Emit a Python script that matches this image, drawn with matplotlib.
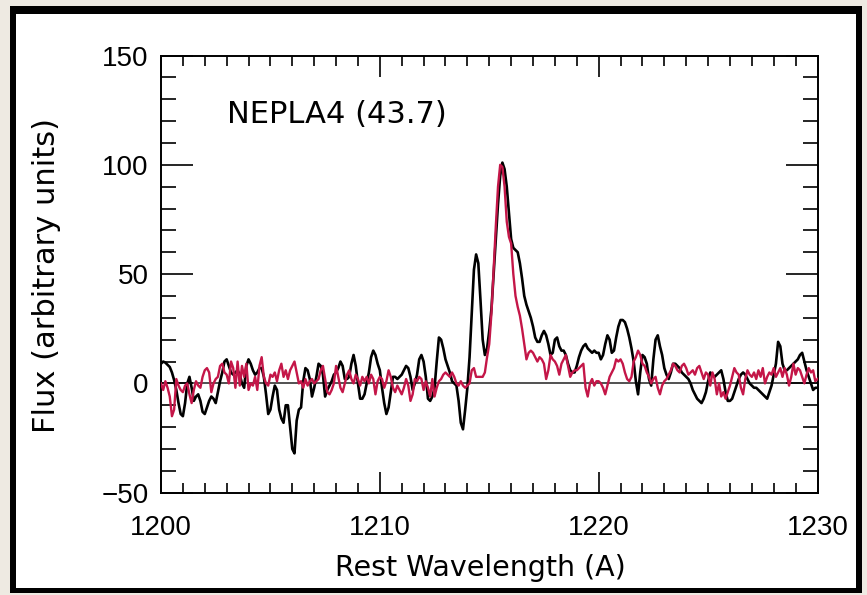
import numpy as np
import matplotlib.pyplot as plt
from matplotlib.patches import Rectangle
from matplotlib.ticker import MultipleLocator

plt.rcParams['font.family'] = ['DejaVu Sans']

# wavelength grid of the spectra (0.1 A sampling)
wave = np.round(np.arange(1200.0, 1230.05, 0.1), 1)

flux_obs = [
    9, 10, 9.5, 8.5, 7.5, 5, 1.5, -3, -9, -14,
    -15, -9, 0, 3, -2, -8, -6, -5, -8, -13,
    -14, -11, -8, -6, -7, -9, -4, 1, 5, 10,
    11, 8, 5, 4, 5, 6, 4, 0, -2, 8,
    11, 9, 6, 4, 5, 7, 7, 3, -5, -14,
    -12, -6, -1, -3, -12, -16, -18, -10, -10, -20,
    -30, -32, -17, -12, -11, 1, 7, 6, 2, -6,
    -2, 3, 9, 8, 4, -6, -3, -1, 1, 4,
    5, 7, 10, 8, 2, 2, 3, 9, 13, 8,
    0, -7, -7, -5, 0, 5, 12, 15, 13, 9,
    6, -2, -9, -14, -11, -4, 3, 3, 2, 3,
    4, 6, 8, 7, 3, -3, 0, 4, 11, 13,
    10, 3, -7, -8, -6, -2, 10, 21, 20, 16,
    11, 8, 5, 1, 0, -1, -8, -18, -21, -12,
    -2, 12, 32, 52, 59, 55, 38, 20, 13, 16,
    24, 34, 50, 66, 82, 95, 101, 98, 90, 78,
    66, 62, 61, 60, 55, 48, 40, 36, 33, 30,
    26, 21, 19, 19, 22, 24, 22, 18, 13, 14,
    20, 21, 17, 15, 15, 13, 9, 6, 5, 5,
    8, 12, 15, 17, 18, 16, 15, 14, 15, 14,
    14, 11, 13, 18, 22, 20, 14, 15, 21, 26,
    29, 29, 28, 25, 21, 16, 10, 1, -5, 5,
    13, 12, 9, 2, -1, 11, 20, 22, 17, 13,
    7, 4, 2, 5, 9, 9, 8, 7, 5, 4,
    3, 2, 0, -3, -5, -7, -8, -9, -7, -4,
    1, 5, 4, 3, 4, 5, 6, 2, -4, -8,
    -8, -7, -4, -1, 2, 4, 5, 4, 2, 0,
    -1, -2, -2, -3, -4, -5, -6, -7, -4, -1,
    4, 9, 19, 17, 9, 6, 6, 7, 8, 9,
    10, 11, 13, 14, 10, 6, 3, 0, -3, -2,
    -2,
]

# comparison spectrum (red)
flux_ref = [
    0, -3, 1, -2, -6, -15, -12, 2, -1, -3,
    -4, -1, 0, -5, -9, -3, 1, -1, -2, 3,
    6, 7, 5, -4, 0, 2, 3, 8, 9, 5,
    4, 0, 10, 7, -2, 10, -1, 8, 3, 9,
    -3, 0, -1, 3, -3, 8, 12, 3, 0, -1,
    4, 3, 5, 1, 6, 9, 3, 6, 2, 6,
    8, 10, 5, 0, 1, -2, 2, -1, 1, 2,
    0, 1, 2, 6, 8, 2, -4, -5, -3, 0,
    8, 3, -2, -4, 0, 4, 6, 2, 0, 4,
    2, -1, 3, 1, 3, 0, 4, 2, -5, 1,
    3, 2, -2, 1, 6, 3, -2, -4, -1, -3,
    -5, -2, 2, -1, -8, -5, 2, 1, 3, 2,
    -3, 1, -2, -6, 2, -6, -2, 1, 2, 4,
    5, 4, 3, 5, 3, 0, -1, 1, -1, -2,
    -1, 0, 6, 7, 3, 3, 3, 3, 5, 12,
    18, 32, 52, 72, 90, 100, 99, 90, 74, 67,
    64, 50, 40, 35, 31, 25, 18, 11, 14, 15,
    14, 12, 10, 12, 11, 9, 2, 6, 13, 11,
    10, 8, 4, 9, 11, 13, 8, 3, 5, 6,
    6, 7, 8, 9, -2, -6, 0, 2, -1, 1,
    1, 0, -2, -5, -1, 3, 5, 7, 11, 10,
    11, 9, 5, 2, 1, 3, 10, 12, 15, 13,
    9, 8, 5, 3, 0, 2, 3, -2, -5, -1,
    1, 2, 4, 6, 9, 8, 6, 5, 8, 9,
    7, 4, 5, 6, 4, 7, 8, 5, 2, 5,
    4, -1, 5, 2, -5, 0, -6, -4, -7, -4,
    -1, 3, 7, 5, 4, -2, -5, 2, 6, 4,
    3, 5, 2, 6, 3, 7, 0, 3, 5, 4,
    7, 3, 5, 7, 3, 7, 4, -1, 3, 9,
    4, 7, 6, 3, 0, 4, 7, 5, 6, 1,
    2,
]

object_label = 'NEPLA4 (43.7)'

W, H = 867, 595
fig = plt.figure(figsize=(W / 100, H / 100), dpi=100, facecolor='#eeeae2')

# black frame and white card behind the plot
fig.patches.append(Rectangle((10 / W, 2 / H), 852 / W, 587 / H, transform=fig.transFigure,
                             facecolor='black', edgecolor='none', zorder=-3))
fig.patches.append(Rectangle((16 / W, 7 / H), 840 / W, 574 / H, transform=fig.transFigure,
                             facecolor='white', edgecolor='none', zorder=-2))

left, right, top, bottom = 161, 817.5, 55.5, 492.7
ax = fig.add_axes([left / W, 1 - bottom / H, (right - left) / W, (bottom - top) / H])
ax.set_facecolor('none')

ax.axhline(0, color='#222222', lw=1.1, zorder=1)
ax.plot(wave, flux_obs, color='black', lw=1.9, zorder=2)
ax.plot(wave, flux_ref, color='#c41648', lw=1.7, zorder=3)

ax.set_xlim(1200, 1230)
ax.set_ylim(-50, 150)

ax.xaxis.set_major_locator(MultipleLocator(10))
ax.xaxis.set_minor_locator(MultipleLocator(1))
ax.yaxis.set_major_locator(MultipleLocator(50))
ax.yaxis.set_minor_locator(MultipleLocator(10))

tick_font = ['Liberation Sans', 'DejaVu Sans']
ax.tick_params(axis='x', which='major', direction='in', length=15, width=1.2,
               top=True, labelsize=20, pad=16)
ax.tick_params(axis='x', which='minor', direction='in', length=7.5, width=1.2, top=True)
ax.tick_params(axis='y', which='major', direction='in', length=23, width=1.2,
               right=True, labelsize=20, pad=9)
ax.tick_params(axis='y', which='minor', direction='in', length=11, width=1.2, right=True)
for lab in ax.get_xticklabels() + ax.get_yticklabels():
    lab.set_family(tick_font)
for s in ax.spines.values():
    s.set_linewidth(1.4)

ax.set_xlabel('Rest Wavelength (A)', fontsize=20.5)
ax.set_ylabel('Flux (arbitrary units)', fontsize=22)
ax.xaxis.set_label_coords(0.486, -0.14)
ax.yaxis.set_label_coords(-0.152, 0.496)

ax.text(1203.0, 119, object_label, fontsize=22, va='baseline', ha='left')

fig.savefig('out.png', dpi=100, facecolor=fig.get_facecolor())
